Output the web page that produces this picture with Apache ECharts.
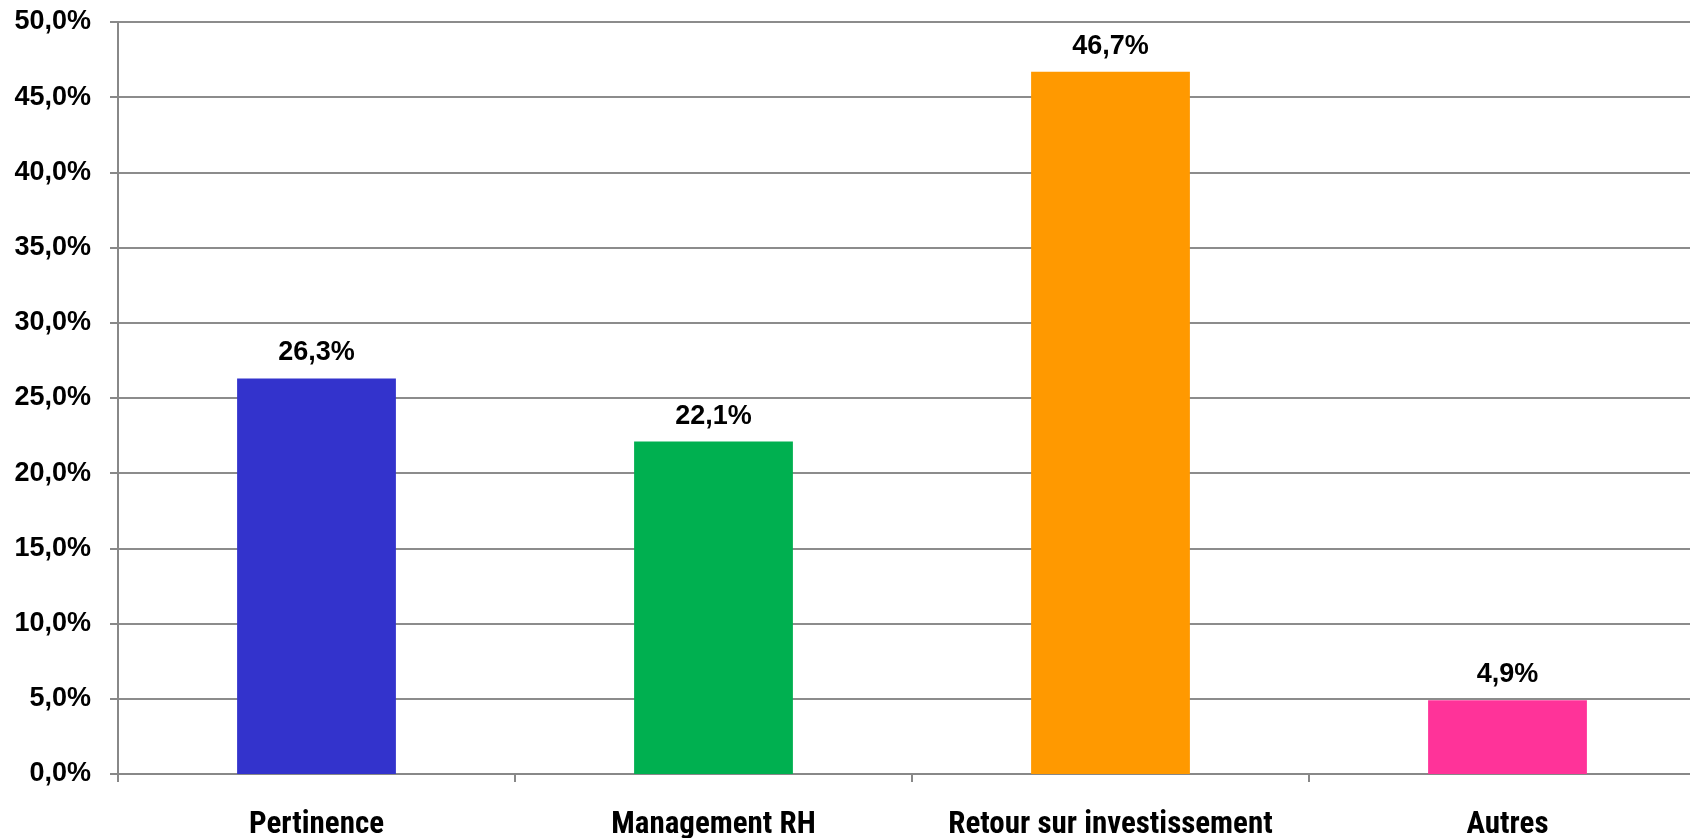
<!DOCTYPE html>
<html>
<head>
<meta charset="utf-8">
<script src="https://cdn.jsdelivr.net/npm/echarts@6/dist/echarts.min.js"></script>
<style>
html,body{margin:0;padding:0;background:#fff;}
#chart{width:1690px;height:838px;}
</style>
</head>
<body>
<div id="chart"></div>
<script>
const categories = ['Pertinence', 'Management RH', 'Retour sur investissement', 'Autres'];
const values = [26.3, 22.1, 46.7, 4.9];
const barColors = ['#3333CC', '#00B050', '#FF9900', '#FF3399'];
const yTicks = { min: 0, max: 50, interval: 5 };

const fmt = v => v.toFixed(1).replace('.', ',') + '%';

const chart = echarts.init(document.getElementById('chart'), null, { renderer: 'canvas' });
chart.setOption({
  animation: false,
  backgroundColor: '#ffffff',
  grid: { left: 118, top: 22, width: 1588, height: 752, containLabel: false, outerBoundsMode: 'none' },
  xAxis: {
    type: 'category',
    data: categories,
    axisLine: { lineStyle: { color: '#888888', width: 2 } },
    axisTick: { show: true, length: 8, interval: 0, lineStyle: { color: '#888888', width: 2 } },
    axisLabel: {
      interval: 0,
      hideOverlap: false,
      margin: 51,
      verticalAlign: 'middle',
      color: '#000000',
      fontFamily: '"Roboto Condensed", "Liberation Sans", Arial, sans-serif',
      fontWeight: 'bold',
      fontSize: 31
    }
  },
  yAxis: {
    type: 'value',
    min: yTicks.min, max: yTicks.max, interval: yTicks.interval,
    axisLine: { show: true, lineStyle: { color: '#888888', width: 2 } },
    axisTick: { show: true, length: 8, lineStyle: { color: '#888888', width: 2 } },
    splitLine: { show: true, lineStyle: { color: '#8c8c8c', width: 2 } },
    axisLabel: {
      margin: 27,
      color: '#000000',
      fontFamily: '"Liberation Sans", Arial, sans-serif',
      fontWeight: 'bold',
      fontSize: 27,
      formatter: fmt
    }
  },
  series: [{
    type: 'bar',
    barWidth: '40%',
    data: values.map((v, i) => ({ value: v, itemStyle: { color: barColors[i] } })),
    label: {
      show: true,
      position: 'top',
      distance: 12,
      color: '#000000',
      fontFamily: '"Liberation Sans", Arial, sans-serif',
      fontWeight: 'bold',
      fontSize: 27,
      formatter: p => fmt(p.value)
    }
  }]
});
</script>
</body>
</html>
